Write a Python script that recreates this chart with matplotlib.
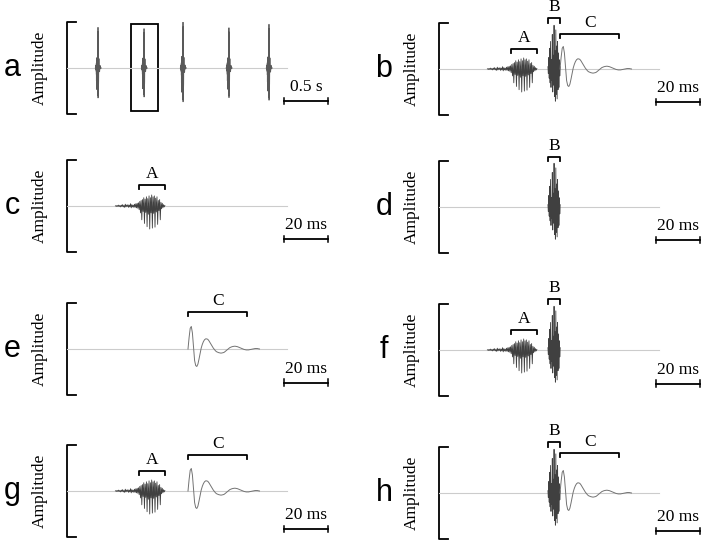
import numpy as np
import matplotlib.pyplot as plt

# hand-read samples of the three call components (time in ms, amplitude normalised)
A_T0, A_DT = 22.0, 0.3
A_VALS = [0.00, 0.01, -0.01, 0.01, -0.01, 0.02, -0.01, 0.01, -0.02, 0.02, -0.01, 0.03,
          -0.02, 0.01, -0.03, 0.04, -0.02, 0.02, -0.01, 0.03, -0.03, 0.02, -0.02, 0.05,
          -0.04, 0.03, -0.02, 0.02, -0.03, 0.04, -0.03, 0.05, -0.04, 0.06, -0.05, 0.07,
          -0.08, 0.10, -0.15, 0.12, -0.30, 0.14, -0.12, 0.18, -0.38, 0.15, -0.14, 0.20,
          -0.45, 0.16, -0.18, 0.22, -0.50, 0.18, -0.15, 0.24, -0.48, 0.20, -0.16, 0.22,
          -0.46, 0.17, -0.13, 0.20, -0.40, 0.12, -0.10, 0.14, -0.30, 0.08, -0.06, 0.06,
          -0.04, 0.03, -0.02, 0.01]
B_T0, B_DT = 49.5, 0.2
B_VALS = [0.05, -0.10, 0.25, -0.20, 0.45, -0.30, 0.60, -0.40, 0.20, -0.25, 0.75, -0.50,
          0.30, -0.35, 0.95, -0.60, 0.40, -0.70, 0.85, -0.55, 0.50, -0.65, 0.60, -0.45,
          0.35, -0.40, 0.20, -0.15, 0.05]
C_T0, C_DT = 55.0, 0.5
C_VALS = [0.00, 0.25, 0.45, 0.49, 0.35, 0.05, -0.25, -0.36, -0.38, -0.33, -0.22, -0.10,
          0.02, 0.10, 0.16, 0.20, 0.22, 0.22, 0.21, 0.18, 0.14, 0.10, 0.06, 0.02,
          -0.01, -0.04, -0.06, -0.07, -0.08, -0.085, -0.09, -0.085, -0.08, -0.07, -0.05, -0.03,
          -0.01, 0.01, 0.03, 0.04, 0.05, 0.055, 0.06, 0.06, 0.055, 0.05, 0.04, 0.03,
          0.02, 0.01, 0.00, -0.01, -0.015, -0.02, -0.02, -0.02, -0.015, -0.01, -0.005, 0.00,
          0.005, 0.01, 0.01, 0.01, 0.005, 0.00]
TRACE_END = 100.0

# pulse train (panel a), seconds
PULSE_TIMES = [0.352, 0.875, 1.318, 1.84, 2.295]
PULSE_GAINS = [0.93, 0.90, 1.05, 0.92, 1.00]
BOX_SPAN = (0.727, 1.034)
TRAIN_END = 2.5

SEG_SPANS = {'A': (32.5, 44.5), 'B': (49.5, 55.0), 'C': (55.0, 82.0)}

# letter, components, bracket heights per segment
PANELS = [
    ('b', 'ABC', {'A': 0.44, 'B': 1.10, 'C': 0.76}),
    ('c', 'A', {'A': 0.45}),
    ('d', 'B', {'B': 1.09}),
    ('e', 'C', {'C': 0.80}),
    ('f', 'AB', {'A': 0.44, 'B': 1.10}),
    ('g', 'AC', {'A': 0.44, 'C': 0.78}),
    ('h', 'BC', {'B': 1.10, 'C': 0.87}),
]

W, H = 703, 540
COL_X = [67, 439]
ROW_Y = [[68, 206, 349, 491], [69, 207, 350, 493]]
BAR_Y = [-0.72, -0.72, -0.73, -0.83]
HALF = 46

serif = 'Liberation Serif'
sans = 'Liberation Sans'

comps = {}
for name, t0, dt, vals in [('A', A_T0, A_DT, A_VALS), ('B', B_T0, B_DT, B_VALS), ('C', C_T0, C_DT, C_VALS)]:
    comps[name] = (t0 + dt * np.arange(len(vals)), np.array(vals))

fig = plt.figure(figsize=(W / 100, H / 100), dpi=100)


def make_axes(col, row, xmax):
    x0 = COL_X[col]
    yc = ROW_Y[col][row]
    ax = fig.add_axes([x0 / W, 1 - (yc + HALF) / H, 264 / W, 2 * HALF / H])
    ax.set_xlim(0, xmax)
    ax.set_ylim(-1, 1)
    ax.axis('off')
    ax.plot([0.034, 0, 0, 0.034], [1, 1, 0, 0], transform=ax.transAxes,
            color='black', lw=1.3, clip_on=False)
    fig.text((x0 - 27) / W, 1 - yc / H, 'Amplitude', rotation=90, ha='center', va='center',
             family=serif, fontsize=12.5)
    fig.text((x0 - 55) / W, 1 - yc / H, letter, ha='center', va='center',
             family=sans, fontsize=22)
    return ax


def scale_bar(ax, x1, x2, text, ybar=-0.72):
    ax.plot([x1, x2], [ybar, ybar], color='black', lw=1.3, clip_on=False)
    for x in (x1, x2):
        ax.plot([x, x], [ybar - 0.07, ybar + 0.07], color='black', lw=1.1, clip_on=False)
    ax.text((x1 + x2) / 2, ybar + 0.13, text, ha='center', va='bottom',
            family=serif, fontsize=12.5)


# panel a: pulse train
letter = 'a'
ax = make_axes(0, 0, 3.0)
ax.plot([0, TRAIN_END], [0, 0], color='0.8', lw=0.8)
for pt, g in zip(PULSE_TIMES, PULSE_GAINS):
    for name in 'ABC':
        t, v = comps[name]
        ax.plot(pt + (t - 52.0) / 1000.0, g * v, color='0.35', lw=0.6)
ax.add_patch(plt.Rectangle((BOX_SPAN[0], -0.935), BOX_SPAN[1] - BOX_SPAN[0], 1.89,
                           fill=False, ec='black', lw=1.3))
scale_bar(ax, 2.466, 2.966, '0.5 s', BAR_Y[0])

# panels b-h
for i, (letter, parts, brackets) in enumerate(PANELS):
    k = i + 1
    col, row = k % 2, k // 2
    ax = make_axes(col, row, 120)
    ax.plot([0, TRACE_END], [0, 0], color='0.8', lw=0.8)
    for name in parts:
        t, v = comps[name]
        ax.plot(t, v, color='0.45' if name == 'C' else '0.25', lw=0.7 if name == 'C' else 0.6)
    for name, yb in brackets.items():
        s0, s1 = SEG_SPANS[name]
        ax.plot([s0, s0, s1, s1], [yb - 0.09, yb, yb, yb - 0.09], color='black', lw=1.3,
                clip_on=False)
        ax.text((s0 + s1) / 2, yb + 0.07, name, ha='center', va='bottom',
                family=serif, fontsize=12.5)
    scale_bar(ax, 98.8, 118.8, '20 ms', BAR_Y[row])

fig.savefig('out.png', dpi=100)
